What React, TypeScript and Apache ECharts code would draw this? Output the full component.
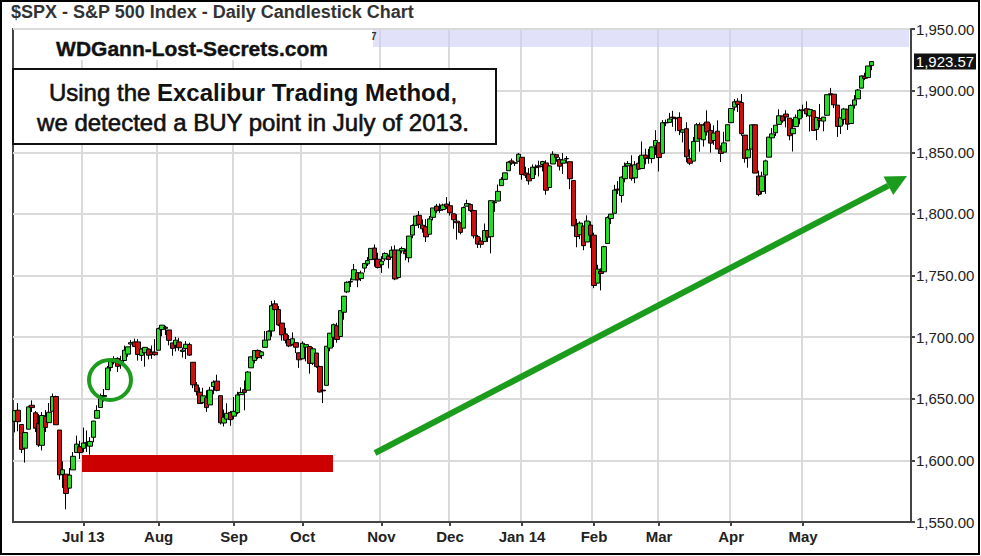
import React, { useEffect, useRef } from 'react';
import * as echarts from 'echarts';

const TITLE = '$SPX - S&P 500 Index - Daily Candlestick Chart';
const SITE = 'WDGann-Lost-Secrets.com';
const LAST_LABEL = '1,923.57';

// Trading days of each month
const jun13Days = [3, 4, 5, 6, 7, 10, 11, 12, 13, 14, 17, 18, 19, 20, 21, 24, 25, 26, 27, 28];
const jul13Days = [1, 2, 3, 5, 8, 9, 10, 11, 12, 15, 16, 17, 18, 19, 22, 23, 24, 25, 26, 29, 30, 31];
const aug13Days = [1, 2, 5, 6, 7, 8, 9, 12, 13, 14, 15, 16, 19, 20, 21, 22, 23, 26, 27, 28, 29, 30];
const sep13Days = [3, 4, 5, 6, 9, 10, 11, 12, 13, 16, 17, 18, 19, 20, 23, 24, 25, 26, 27, 30];
const oct13Days = [1, 2, 3, 4, 7, 8, 9, 10, 11, 14, 15, 16, 17, 18, 21, 22, 23, 24, 25, 28, 29, 30, 31];
const nov13Days = [1, 4, 5, 6, 7, 8, 11, 12, 13, 14, 15, 18, 19, 20, 21, 22, 25, 26, 27, 29];
const dec13Days = [2, 3, 4, 5, 6, 9, 10, 11, 12, 13, 16, 17, 18, 19, 20, 23, 24, 26, 27, 30, 31];
const jan14Days = [2, 3, 6, 7, 8, 9, 10, 13, 14, 15, 16, 17, 21, 22, 23, 24, 27, 28, 29, 30, 31];
const feb14Days = [3, 4, 5, 6, 7, 10, 11, 12, 13, 14, 18, 19, 20, 21, 24, 25, 26, 27, 28];
const mar14Days = [3, 4, 5, 6, 7, 10, 11, 12, 13, 14, 17, 18, 19, 20, 21, 24, 25, 26, 27, 28, 31];
const apr14Days = [1, 2, 3, 4, 7, 8, 9, 10, 11, 14, 15, 16, 17, 21, 22, 23, 24, 25, 28, 29, 30];
const may14Days = [1, 2, 5, 6, 7, 8, 9, 12, 13, 14, 15, 16, 19, 20, 21, 22, 23, 27, 28, 29, 30];

// [open, high, low, close]
const jun13 = [
  [1631.7, 1640.4, 1622.7, 1640.4], [1640.7, 1646.5, 1623.6, 1631.4], [1629.1, 1629.3, 1605.9, 1608.9],
  [1609.9, 1622.6, 1598.2, 1622.6], [1625.3, 1644.4, 1625.3, 1643.4], [1644.7, 1648.7, 1639.3, 1642.8],
  [1638.6, 1640.1, 1622.9, 1626.1], [1629.9, 1637.7, 1610.9, 1612.5], [1612.2, 1639.3, 1608.1, 1636.4],
  [1635.5, 1640.8, 1623.0, 1626.7], [1630.6, 1646.5, 1630.3, 1639.0], [1639.8, 1654.2, 1639.8, 1651.8],
  [1651.8, 1652.5, 1628.9, 1628.9], [1624.6, 1624.6, 1584.3, 1588.2], [1588.6, 1599.2, 1577.7, 1592.4],
  [1588.8, 1588.8, 1560.3, 1573.1], [1577.5, 1593.8, 1577.1, 1588.0], [1592.3, 1606.8, 1592.3, 1603.3],
  [1606.4, 1620.1, 1606.4, 1613.2], [1611.1, 1615.9, 1601.1, 1606.3],
];
const jul13 = [
  [1609.8, 1626.6, 1606.5, 1614.1], [1614.3, 1624.3, 1606.8, 1614.1], [1611.5, 1618.9, 1604.6, 1615.4],
  [1618.7, 1632.1, 1614.7, 1631.9], [1634.2, 1644.7, 1634.2, 1640.5], [1642.9, 1654.2, 1642.9, 1652.3],
  [1651.6, 1657.9, 1647.7, 1652.6], [1657.4, 1676.6, 1657.4, 1675.0], [1675.3, 1680.2, 1672.3, 1680.2],
  [1679.6, 1684.5, 1677.9, 1682.5], [1682.7, 1683.7, 1671.8, 1676.3], [1677.9, 1684.8, 1674.3, 1680.9],
  [1681.0, 1693.1, 1681.0, 1689.4], [1686.2, 1692.1, 1684.1, 1692.1], [1694.4, 1697.6, 1690.7, 1695.5],
  [1696.1, 1698.8, 1691.8, 1692.4], [1696.1, 1698.4, 1681.0, 1685.9], [1685.2, 1690.9, 1680.7, 1690.3],
  [1687.3, 1691.9, 1676.0, 1691.7], [1690.3, 1690.9, 1681.9, 1685.3], [1687.9, 1693.2, 1682.4, 1685.9],
  [1687.8, 1698.4, 1684.9, 1685.7],
];
const aug13 = [
  [1689.4, 1707.8, 1689.4, 1706.9], [1706.1, 1709.7, 1700.7, 1709.7], [1708.0, 1709.2, 1701.6, 1707.1],
  [1705.8, 1705.8, 1693.3, 1697.4], [1695.3, 1695.3, 1684.9, 1690.9], [1693.4, 1700.2, 1688.4, 1697.5],
  [1696.1, 1699.4, 1689.0, 1691.4], [1688.4, 1691.5, 1683.4, 1689.5], [1690.7, 1696.8, 1682.2, 1694.2],
  [1693.9, 1695.5, 1684.8, 1685.4], [1679.6, 1679.6, 1658.6, 1661.3], [1661.2, 1663.6, 1652.6, 1655.8],
  [1655.3, 1659.2, 1645.9, 1646.1], [1646.8, 1658.9, 1646.1, 1652.4], [1650.7, 1656.9, 1639.4, 1642.8],
  [1645.0, 1659.6, 1645.0, 1657.0], [1659.9, 1664.9, 1653.6, 1663.5], [1664.3, 1669.5, 1656.0, 1656.8],
  [1652.5, 1652.5, 1629.1, 1630.5], [1630.3, 1641.2, 1627.5, 1635.0], [1633.5, 1646.4, 1630.9, 1638.2],
  [1638.9, 1640.1, 1628.1, 1633.0],
];
const sep13 = [
  [1635.9, 1651.4, 1633.4, 1639.8], [1638.7, 1655.7, 1637.4, 1653.1], [1653.3, 1659.2, 1653.1, 1655.1],
  [1657.4, 1664.8, 1640.6, 1655.2], [1656.9, 1672.4, 1656.9, 1671.7], [1675.1, 1684.1, 1675.1, 1684.0],
  [1681.0, 1689.1, 1678.7, 1689.1], [1689.2, 1690.0, 1682.0, 1683.4], [1685.0, 1688.7, 1682.2, 1688.0],
  [1691.7, 1705.0, 1691.7, 1697.6], [1697.7, 1705.5, 1697.7, 1704.8], [1705.0, 1729.4, 1700.4, 1725.5],
  [1727.0, 1729.9, 1720.2, 1722.3], [1722.4, 1725.2, 1708.9, 1709.9], [1711.4, 1711.4, 1697.1, 1701.8],
  [1702.6, 1707.6, 1694.9, 1697.4], [1698.0, 1701.7, 1691.9, 1692.8], [1694.1, 1703.9, 1693.1, 1698.7],
  [1695.5, 1695.5, 1687.1, 1691.8], [1687.3, 1687.3, 1675.0, 1681.6],
];
const oct13 = [
  [1682.4, 1696.6, 1682.1, 1695.0], [1691.9, 1693.9, 1680.3, 1693.9], [1692.4, 1692.4, 1670.4, 1678.7],
  [1678.8, 1691.9, 1677.3, 1690.5], [1687.1, 1687.1, 1675.0, 1676.1], [1676.2, 1676.8, 1655.0, 1655.5],
  [1657.0, 1662.5, 1646.5, 1656.4], [1660.9, 1692.6, 1660.9, 1692.6], [1691.1, 1703.4, 1688.5, 1703.2],
  [1699.9, 1711.0, 1692.1, 1710.1], [1709.2, 1711.6, 1695.5, 1698.1], [1700.5, 1721.8, 1700.5, 1721.5],
  [1720.2, 1733.4, 1714.1, 1733.2], [1736.7, 1745.3, 1735.7, 1744.5], [1745.2, 1747.8, 1740.6, 1744.7],
  [1746.5, 1759.3, 1746.5, 1754.7], [1752.3, 1752.3, 1740.5, 1746.4], [1747.5, 1753.9, 1745.5, 1752.1],
  [1756.0, 1759.8, 1752.5, 1759.8], [1759.4, 1765.0, 1757.7, 1762.1], [1762.9, 1772.1, 1762.9, 1772.0],
  [1772.3, 1775.2, 1757.2, 1763.3], [1763.2, 1768.5, 1755.7, 1756.5],
];
const nov13 = [
  [1758.7, 1765.7, 1752.1, 1761.6], [1763.4, 1768.8, 1761.6, 1767.9], [1765.7, 1767.0, 1755.8, 1763.0],
  [1765.0, 1773.7, 1764.4, 1770.5], [1770.7, 1774.5, 1746.2, 1747.2], [1748.4, 1770.8, 1747.6, 1770.6],
  [1770.0, 1773.4, 1767.9, 1771.9], [1769.5, 1771.8, 1762.3, 1767.7], [1764.4, 1782.0, 1760.6, 1782.0],
  [1782.8, 1791.5, 1780.2, 1790.6], [1790.7, 1798.2, 1790.7, 1798.2], [1798.8, 1802.3, 1788.4, 1791.5],
  [1790.8, 1795.5, 1784.7, 1787.9], [1789.6, 1795.7, 1777.2, 1781.4], [1783.5, 1798.2, 1783.5, 1795.9],
  [1797.2, 1804.8, 1794.7, 1804.8], [1806.3, 1808.1, 1800.6, 1802.5], [1802.9, 1808.4, 1800.8, 1802.8],
  [1803.5, 1808.3, 1802.4, 1807.2], [1808.0, 1813.6, 1804.0, 1805.8],
];
const dec13 = [
  [1806.6, 1810.0, 1798.6, 1800.9], [1800.1, 1800.1, 1787.9, 1795.2], [1794.1, 1799.8, 1779.1, 1792.8],
  [1792.8, 1792.8, 1783.4, 1785.0], [1788.4, 1806.0, 1788.4, 1805.1], [1806.2, 1811.5, 1806.2, 1808.4],
  [1807.6, 1808.5, 1801.4, 1802.6], [1802.8, 1803.0, 1780.1, 1782.2], [1781.7, 1783.0, 1772.3, 1775.5],
  [1778.0, 1780.9, 1772.5, 1775.3], [1777.5, 1792.2, 1777.5, 1786.5], [1786.5, 1786.8, 1777.2, 1781.0],
  [1781.5, 1811.1, 1768.0, 1810.7], [1809.0, 1810.9, 1801.7, 1809.6], [1810.4, 1823.8, 1810.3, 1818.3],
  [1822.9, 1829.8, 1822.9, 1828.0], [1828.0, 1833.3, 1828.0, 1833.3], [1835.0, 1842.8, 1835.0, 1842.0],
  [1843.0, 1844.9, 1839.8, 1841.4], [1841.5, 1842.5, 1838.8, 1841.1], [1842.6, 1849.4, 1842.4, 1848.4],
];
const jan14 = [
  [1845.9, 1845.9, 1827.7, 1832.0], [1833.2, 1838.2, 1829.1, 1831.4], [1832.3, 1837.2, 1823.7, 1826.8],
  [1828.7, 1840.1, 1828.7, 1837.9], [1837.9, 1840.0, 1831.4, 1837.5], [1839.0, 1843.2, 1830.4, 1838.1],
  [1840.1, 1843.0, 1834.4, 1842.4], [1841.3, 1843.5, 1815.5, 1819.2], [1821.4, 1839.3, 1821.4, 1838.9],
  [1840.5, 1850.8, 1840.5, 1848.4], [1848.0, 1848.0, 1842.3, 1845.9], [1844.2, 1846.0, 1835.2, 1838.7],
  [1841.1, 1849.3, 1832.4, 1843.8], [1844.7, 1846.9, 1840.9, 1844.9], [1842.3, 1842.3, 1820.1, 1828.5],
  [1827.0, 1827.0, 1790.3, 1790.3], [1791.0, 1796.0, 1772.9, 1781.6], [1783.0, 1793.9, 1779.5, 1792.5],
  [1790.2, 1790.2, 1770.5, 1774.2], [1777.2, 1798.8, 1777.2, 1794.2], [1790.9, 1793.9, 1772.3, 1782.6],
];
const feb14 = [
  [1782.7, 1784.8, 1739.7, 1741.9], [1743.8, 1758.7, 1743.8, 1755.2], [1753.4, 1755.8, 1737.9, 1751.6],
  [1753.0, 1774.1, 1753.0, 1773.4], [1776.0, 1798.0, 1776.0, 1797.0], [1796.2, 1799.9, 1791.8, 1799.8],
  [1800.5, 1823.5, 1800.4, 1819.3], [1820.1, 1826.6, 1816.0, 1819.3], [1814.9, 1830.3, 1809.2, 1829.8],
  [1828.5, 1841.7, 1825.6, 1838.6], [1839.0, 1842.9, 1835.0, 1840.8], [1838.9, 1847.5, 1827.0, 1828.8],
  [1829.2, 1842.8, 1824.9, 1839.8], [1841.1, 1846.9, 1835.6, 1836.3], [1836.8, 1858.7, 1836.8, 1847.6],
  [1847.7, 1852.9, 1840.2, 1845.1], [1845.8, 1852.7, 1840.7, 1845.2], [1844.9, 1854.5, 1841.1, 1854.3],
  [1855.1, 1867.9, 1847.7, 1859.5],
];
const mar14 = [
  [1857.7, 1857.7, 1834.4, 1845.7], [1849.2, 1876.2, 1849.2, 1873.9], [1874.1, 1876.5, 1871.2, 1873.8],
  [1874.2, 1881.9, 1874.2, 1877.0], [1878.5, 1883.6, 1870.6, 1878.0], [1877.9, 1877.9, 1867.0, 1877.2],
  [1878.3, 1882.4, 1863.9, 1867.6], [1866.2, 1868.4, 1858.0, 1868.2], [1869.1, 1874.4, 1841.9, 1846.3],
  [1845.1, 1852.4, 1839.6, 1841.1], [1842.8, 1862.3, 1842.8, 1858.8], [1858.9, 1873.8, 1858.9, 1872.3],
  [1872.3, 1874.1, 1850.4, 1860.8], [1860.1, 1873.5, 1854.6, 1872.0], [1874.5, 1884.0, 1863.5, 1866.5],
  [1867.7, 1873.3, 1849.7, 1857.4], [1859.5, 1871.9, 1856.0, 1865.6], [1867.1, 1875.9, 1852.6, 1852.6],
  [1852.1, 1855.6, 1842.1, 1849.0], [1850.1, 1866.6, 1850.1, 1857.6], [1859.2, 1872.5, 1859.2, 1872.3],
];
const apr14 = [
  [1874.0, 1885.8, 1874.0, 1885.5], [1886.6, 1893.2, 1883.8, 1890.9], [1891.4, 1893.8, 1882.7, 1888.8],
  [1890.3, 1897.3, 1863.3, 1865.1], [1863.9, 1864.0, 1841.5, 1845.0], [1845.5, 1855.0, 1837.5, 1852.0],
  [1852.6, 1872.4, 1852.4, 1872.2], [1872.3, 1872.5, 1833.1, 1833.1], [1830.7, 1835.1, 1814.4, 1815.7],
  [1818.2, 1834.2, 1815.8, 1830.6], [1831.5, 1844.0, 1816.3, 1843.0], [1846.0, 1862.3, 1846.0, 1862.3],
  [1861.7, 1869.6, 1856.7, 1864.9], [1865.8, 1871.9, 1863.2, 1871.9], [1872.6, 1884.9, 1872.6, 1879.6],
  [1879.3, 1879.8, 1873.9, 1875.4], [1881.0, 1884.1, 1870.2, 1878.6], [1877.7, 1877.7, 1859.7, 1863.4],
  [1865.0, 1877.0, 1850.6, 1869.4], [1870.8, 1880.6, 1870.8, 1878.3], [1877.1, 1885.2, 1872.7, 1884.0],
];
const may14 = [
  [1884.4, 1888.6, 1878.0, 1883.7], [1885.3, 1891.3, 1878.5, 1881.1], [1879.5, 1885.5, 1866.8, 1884.7],
  [1883.7, 1883.7, 1867.7, 1867.7], [1868.5, 1878.8, 1859.8, 1878.2], [1877.4, 1889.1, 1870.1, 1875.6],
  [1875.3, 1878.6, 1867.0, 1878.5], [1880.0, 1897.1, 1880.0, 1896.7], [1896.8, 1902.2, 1896.1, 1897.5],
  [1897.1, 1897.1, 1885.8, 1888.5], [1888.2, 1888.2, 1862.4, 1870.9], [1871.2, 1878.3, 1864.8, 1877.9],
  [1876.7, 1886.0, 1872.4, 1885.1], [1884.9, 1884.9, 1868.1, 1872.8], [1873.3, 1888.8, 1873.3, 1888.0],
  [1888.2, 1896.3, 1885.4, 1892.5], [1893.3, 1901.3, 1893.3, 1900.5], [1902.0, 1912.3, 1902.0, 1911.9],
  [1911.8, 1914.5, 1908.5, 1909.8], [1910.6, 1920.0, 1909.8, 1920.0], [1920.3, 1924.0, 1916.6, 1923.57],
];

// Month tick labels (first trading day of each month)
const monthLabels = ['', 'Jul 13', 'Aug', 'Sep', 'Oct', 'Nov', 'Dec', 'Jan 14', 'Feb', 'Mar', 'Apr', 'May'];

const monthBlocks = [
  { year: 2013, month: 6, days: jun13Days, ohlc: jun13 },
  { year: 2013, month: 7, days: jul13Days, ohlc: jul13 },
  { year: 2013, month: 8, days: aug13Days, ohlc: aug13 },
  { year: 2013, month: 9, days: sep13Days, ohlc: sep13 },
  { year: 2013, month: 10, days: oct13Days, ohlc: oct13 },
  { year: 2013, month: 11, days: nov13Days, ohlc: nov13 },
  { year: 2013, month: 12, days: dec13Days, ohlc: dec13 },
  { year: 2014, month: 1, days: jan14Days, ohlc: jan14 },
  { year: 2014, month: 2, days: feb14Days, ohlc: feb14 },
  { year: 2014, month: 3, days: mar14Days, ohlc: mar14 },
  { year: 2014, month: 4, days: apr14Days, ohlc: apr14 },
  { year: 2014, month: 5, days: may14Days, ohlc: may14 },
];

const PAD_SLOTS = 11;
const Y_MIN = 1550;
const Y_MAX = 1950;
const Y_STEP = 50;

const FONT = 'Arial, "Liberation Sans", sans-serif';
const GREEN_MARK = '#1c9c1c';

export default function App() {
  const ref = useRef<HTMLDivElement>(null);

  useEffect(() => {
    if (!ref.current) return;
    const chart = echarts.init(ref.current, null, { renderer: 'svg' });

    const categories: string[] = [];
    const candles: number[][] = [];
    const labelAt = new Map<number, string>();
    monthBlocks.forEach((b, mi) => {
      b.days.forEach((d, i) => {
        const key = `${b.year}-${String(b.month).padStart(2, '0')}-${String(d).padStart(2, '0')}`;
        if (i === 0 && monthLabels[mi]) labelAt.set(categories.length, monthLabels[mi]);
        categories.push(key);
        const [o, h, l, c] = b.ohlc[i];
        candles.push([o, c, l, h]);
      });
    });
    for (let i = 0; i < PAD_SLOTS; i++) categories.push('pad' + i);
    const lastClose = candles[candles.length - 1][1];

    const isMonth = (idx: number) => labelAt.has(idx);

    // arrow geometry
    const ax0 = 375, ay0 = 453, tipX = 907, tipY = 176;
    const dx = tipX - ax0, dy = tipY - ay0;
    const len = Math.sqrt(dx * dx + dy * dy);
    const ux = dx / len, uy = dy / len;
    const headL = 21, headW = 10.5;
    const bx = tipX - ux * headL, by = tipY - uy * headL;

    const baseGraphic: any[] = [
      // outer frame
      { type: 'rect', z: 100, shape: { x: 1, y: 1, width: 978, height: 553 }, style: { fill: 'none', stroke: '#000', lineWidth: 2 } },
      // title
      { type: 'text', z: 100, x: 11, y: 3, style: { text: TITLE, font: `bold 18px ${FONT}`, fill: '#333' } },
      // lavender band
      { type: 'rect', z: 100, shape: { x: 373, y: 30, width: 536, height: 17 }, style: { fill: 'rgba(205,205,245,0.6)' } },
      { type: 'text', z: 100, x: 371, y: 31, style: { text: '7', font: `bold 10px ${FONT}`, fill: '#333' } },
      // white header cover
      { type: 'rect', z: 100, shape: { x: 14, y: 30, width: 358, height: 30 }, style: { fill: '#fff' } },
      { type: 'text', z: 101, x: 192, y: 48, style: { text: SITE, font: `bold 21px ${FONT}`, fill: '#111', align: 'center', verticalAlign: 'middle', stroke: '#111', lineWidth: 0.4 } },
      // message box
      { type: 'rect', z: 100, shape: { x: 13, y: 69, width: 483, height: 75 }, style: { fill: '#fff', stroke: '#111', lineWidth: 2 } },
      {
        type: 'text', z: 101, x: 253, y: 107,
        style: {
          text: '{r|Using the }{b|Excalibur Trading Method}{r|,}\n{r|we detected a BUY point in July of 2013.}',
          align: 'center', verticalAlign: 'middle',
          rich: {
            r: { font: `24px ${FONT}`, fill: '#111', lineHeight: 30, stroke: '#111', lineWidth: 0.6 },
            b: { font: `bold 24px ${FONT}`, fill: '#111', lineHeight: 30 },
          },
        },
      },
      // red support bar
      { type: 'rect', z: 100, shape: { x: 82, y: 455, width: 251, height: 17 }, style: { fill: '#cc0000' } },
      // green circle
      { type: 'ellipse', z: 100, shape: { cx: 110, cy: 380, rx: 21, ry: 20 }, style: { fill: 'none', stroke: GREEN_MARK, lineWidth: 4 } },
      // green arrow
      { type: 'line', z: 100, shape: { x1: ax0, y1: ay0, x2: bx, y2: by }, style: { stroke: GREEN_MARK, lineWidth: 6 } },
      {
        type: 'polygon', z: 100,
        shape: { points: [[tipX, tipY], [bx - uy * headW, by + ux * headW], [bx + uy * headW, by - ux * headW]] },
        style: { fill: GREEN_MARK },
      },
    ];

    chart.setOption({
      animation: false,
      backgroundColor: '#ffffff',
      grid: {
        left: 13, right: 70, top: 29, bottom: 34,
        show: true, borderColor: '#444', borderWidth: 2, backgroundColor: 'transparent',
      },
      xAxis: {
        type: 'category',
        data: categories,
        boundaryGap: true,
        axisLine: { show: true, lineStyle: { color: '#444', width: 2 } },
        axisTick: {
          show: true, alignWithLabel: true, length: 4,
          interval: (idx: number) => isMonth(idx),
          lineStyle: { color: '#444', width: 2 },
        },
        axisLabel: {
          interval: (idx: number) => isMonth(idx),
          formatter: (_v: string, idx: number) => labelAt.get(idx) || '',
          color: '#222', fontFamily: FONT, fontWeight: 'bold', fontSize: 15, margin: 7,
        },
        splitLine: {
          show: true,
          interval: (idx: number) => isMonth(idx),
          lineStyle: { color: '#dadada', width: 2 },
        },
      },
      yAxis: {
        type: 'value',
        position: 'right',
        min: Y_MIN, max: Y_MAX, interval: Y_STEP,
        axisLine: { show: true, lineStyle: { color: '#444', width: 2 } },
        axisTick: { show: true, length: 4, lineStyle: { color: '#444', width: 2 } },
        axisLabel: {
          formatter: (v: number) => v.toLocaleString('en-US', { minimumFractionDigits: 2, maximumFractionDigits: 2 }),
          color: '#222', fontFamily: FONT, fontSize: 15, margin: 5,
        },
        splitLine: { show: true, lineStyle: { color: '#dadada', width: 2 } },
      },
      series: [
        {
          type: 'candlestick',
          data: candles,
          barWidth: 5,
          barMaxWidth: 6,
          itemStyle: {
            color: '#22dd22', color0: '#cc1010',
            borderColor: '#000', borderColor0: '#000', borderWidth: 1,
          },
        },
      ],
      graphic: baseGraphic,
    });

    // last-price tag on the value axis
    const py = chart.convertToPixel({ yAxisIndex: 0 }, lastClose) as number;
    chart.setOption({
      graphic: [
        ...baseGraphic,
        { type: 'rect', z: 100, shape: { x: 914, y: py - 8, width: 62, height: 16 }, style: { fill: '#111' } },
        { type: 'text', z: 101, x: 945, y: py, style: { text: LAST_LABEL, font: `15px ${FONT}`, fill: '#fff', align: 'center', verticalAlign: 'middle' } },
      ],
    }, { replaceMerge: ['graphic'] });

    return () => chart.dispose();
  }, []);

  return (
    <div
      ref={ref}
      style={{ position: 'fixed', left: 0, top: 0, width: 981, height: 556, background: '#fff' }}
    />
  );
}
